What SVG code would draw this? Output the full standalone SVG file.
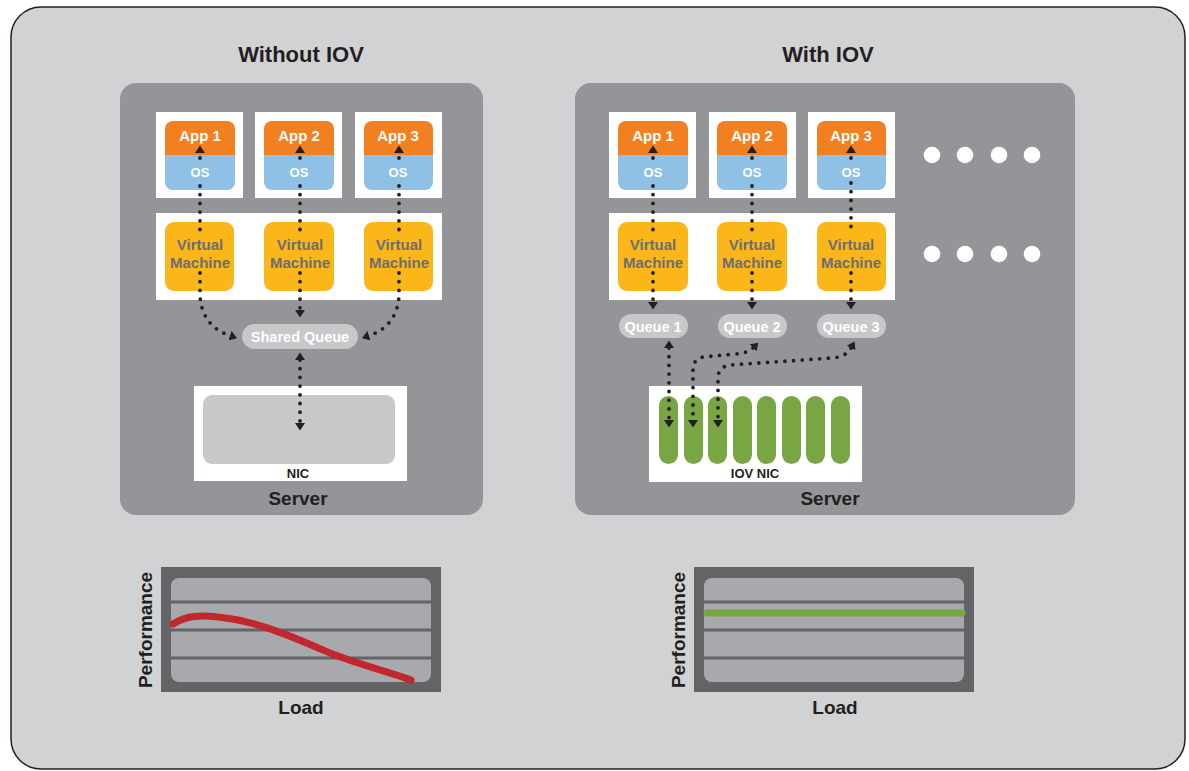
<svg xmlns="http://www.w3.org/2000/svg" width="1189" height="771" viewBox="0 0 1189 771">
<defs>
<style>
.t{font-family:"Liberation Sans",Arial,sans-serif;font-weight:bold;text-anchor:middle}
.title{font-size:22px;fill:#231f20}
.lbl{font-size:19px;fill:#231f20}
.app{font-size:15px;fill:#fff}
.os{font-size:13px;fill:#fff}
.vm{font-size:15px;fill:#6d6e71}
.q{font-size:14.5px;fill:#fff}
.nic{font-size:13px;fill:#231f20}
.panel{fill:#939598}
.white{fill:#fff}
.orange{fill:#f28021}
.blue{fill:#8fc0e6}
.yellow{fill:#fbb61a}
.pill{fill:#c7c8ca}
.green{fill:#77a642}
.dot{fill:#fff}
.dash{fill:none;stroke:#231f20;stroke-width:3.8;stroke-linecap:round;stroke-dasharray:0 8.7}
.grid{stroke:#646466;stroke-width:3}
.ahf{fill:#231f20}
</style>
<marker id="ah" viewBox="0 0 8 10" refX="0" refY="5" markerWidth="8" markerHeight="10" markerUnits="userSpaceOnUse" orient="auto-start-reverse">
<path d="M0,0 L7.5,5 L0,10 Z" fill="#231f20"/>
</marker>
</defs>

<rect x="11" y="7" width="1174" height="762" rx="30" fill="#d1d2d4" stroke="#231f20" stroke-width="1.5"/>

<text class="t title" x="301" y="62">Without IOV</text>
<text class="t title" x="828" y="62">With IOV</text>

<!-- Left server -->
<g id="server-left">
<rect class="panel" x="120" y="83" width="363" height="432" rx="16"/>
<text class="t lbl" x="298" y="505">Server</text>
</g>
<g id="l-app1"><rect class="white" x="156" y="112" width="87" height="86"/><path class="orange" d="M165,155 V129 a8,8 0 0 1 8,-8 H227 a8,8 0 0 1 8,8 V155 Z"/><path class="blue" d="M165,155 V182 a8,8 0 0 0 8,8 H227 a8,8 0 0 0 8,-8 V155 Z"/><text class="t app" x="200" y="141">App 1</text><text class="t os" x="200" y="177">OS</text></g>
<g id="l-app2"><rect class="white" x="255" y="112" width="87" height="86"/><path class="orange" d="M264,155 V129 a8,8 0 0 1 8,-8 H326 a8,8 0 0 1 8,8 V155 Z"/><path class="blue" d="M264,155 V182 a8,8 0 0 0 8,8 H326 a8,8 0 0 0 8,-8 V155 Z"/><text class="t app" x="299" y="141">App 2</text><text class="t os" x="299" y="177">OS</text></g>
<g id="l-app3"><rect class="white" x="355" y="112" width="87" height="86"/><path class="orange" d="M364,155 V129 a8,8 0 0 1 8,-8 H425 a8,8 0 0 1 8,8 V155 Z"/><path class="blue" d="M364,155 V182 a8,8 0 0 0 8,8 H425 a8,8 0 0 0 8,-8 V155 Z"/><text class="t app" x="398" y="141">App 3</text><text class="t os" x="398" y="177">OS</text></g>
<g id="l-vmrow"><rect class="white" x="156" y="213" width="286" height="87"/></g>
<g id="l-vm1"><rect class="yellow" x="165" y="222" width="69" height="69" rx="9"/><text class="t vm" x="200" y="250">Virtual</text><text class="t vm" x="200" y="268">Machine</text></g>
<g id="l-vm2"><rect class="yellow" x="264" y="222" width="70" height="69" rx="9"/><text class="t vm" x="300" y="250">Virtual</text><text class="t vm" x="300" y="268">Machine</text></g>
<g id="l-vm3"><rect class="yellow" x="364" y="222" width="69" height="69" rx="9"/><text class="t vm" x="399" y="250">Virtual</text><text class="t vm" x="399" y="268">Machine</text></g>
<g id="l-shared-queue"><rect class="pill" x="242" y="324" width="116" height="25" rx="12.5"/><text class="t q" x="300" y="342">Shared Queue</text></g>
<g id="l-nic"><rect class="white" x="194" y="386" width="213" height="95"/><rect class="pill" x="203" y="395" width="192" height="69" rx="9"/><text class="t nic" x="298" y="478">NIC</text></g>

<!-- Right server -->
<g id="server-right">
<rect class="panel" x="575" y="83" width="500" height="432" rx="16"/>
<text class="t lbl" x="830" y="505">Server</text>
</g>
<g id="r-app1"><rect class="white" x="609" y="112" width="87" height="86"/><path class="orange" d="M618,155 V129 a8,8 0 0 1 8,-8 H680 a8,8 0 0 1 8,8 V155 Z"/><path class="blue" d="M618,155 V182 a8,8 0 0 0 8,8 H680 a8,8 0 0 0 8,-8 V155 Z"/><text class="t app" x="653" y="141">App 1</text><text class="t os" x="653" y="177">OS</text></g>
<g id="r-app2"><rect class="white" x="709" y="112" width="87" height="86"/><path class="orange" d="M717,155 V129 a8,8 0 0 1 8,-8 H779 a8,8 0 0 1 8,8 V155 Z"/><path class="blue" d="M717,155 V182 a8,8 0 0 0 8,8 H779 a8,8 0 0 0 8,-8 V155 Z"/><text class="t app" x="752" y="141">App 2</text><text class="t os" x="752" y="177">OS</text></g>
<g id="r-app3"><rect class="white" x="808" y="112" width="87" height="86"/><path class="orange" d="M817,155 V129 a8,8 0 0 1 8,-8 H878 a8,8 0 0 1 8,8 V155 Z"/><path class="blue" d="M817,155 V182 a8,8 0 0 0 8,8 H878 a8,8 0 0 0 8,-8 V155 Z"/><text class="t app" x="851" y="141">App 3</text><text class="t os" x="851" y="177">OS</text></g>
<g id="r-dots-top"><circle class="dot" cx="932" cy="155" r="8.3"/><circle class="dot" cx="965" cy="155" r="8.3"/><circle class="dot" cx="999" cy="155" r="8.3"/><circle class="dot" cx="1032" cy="155" r="8.3"/></g>
<g id="r-vmrow"><rect class="white" x="609" y="213" width="286" height="87"/></g>
<g id="r-vm1"><rect class="yellow" x="618" y="222" width="70" height="69" rx="9"/><text class="t vm" x="653" y="250">Virtual</text><text class="t vm" x="653" y="268">Machine</text></g>
<g id="r-vm2"><rect class="yellow" x="717" y="222" width="70" height="69" rx="9"/><text class="t vm" x="752" y="250">Virtual</text><text class="t vm" x="752" y="268">Machine</text></g>
<g id="r-vm3"><rect class="yellow" x="817" y="222" width="69" height="69" rx="9"/><text class="t vm" x="851" y="250">Virtual</text><text class="t vm" x="851" y="268">Machine</text></g>
<g id="r-dots-bottom"><circle class="dot" cx="932" cy="254" r="8.3"/><circle class="dot" cx="965" cy="254" r="8.3"/><circle class="dot" cx="999" cy="254" r="8.3"/><circle class="dot" cx="1032" cy="254" r="8.3"/></g>
<g id="r-queue1"><rect class="pill" x="619" y="314" width="69" height="24" rx="12"/><text class="t q" x="653" y="332">Queue 1</text></g>
<g id="r-queue2"><rect class="pill" x="718" y="314" width="69" height="24" rx="12"/><text class="t q" x="752" y="332">Queue 2</text></g>
<g id="r-queue3"><rect class="pill" x="817" y="314" width="69" height="24" rx="12"/><text class="t q" x="851" y="332">Queue 3</text></g>
<g id="r-iov-nic"><rect class="white" x="649" y="386" width="213" height="96"/>
<rect class="green" x="659" y="396" width="19" height="68" rx="9.5"/>
<rect class="green" x="684" y="396" width="19" height="68" rx="9.5"/>
<rect class="green" x="708" y="396" width="19" height="68" rx="9.5"/>
<rect class="green" x="733" y="396" width="19" height="68" rx="9.5"/>
<rect class="green" x="757" y="396" width="19" height="68" rx="9.5"/>
<rect class="green" x="782" y="396" width="19" height="68" rx="9.5"/>
<rect class="green" x="806" y="396" width="19" height="68" rx="9.5"/>
<rect class="green" x="831" y="396" width="19" height="68" rx="9.5"/>
<text class="t nic" x="755" y="478">IOV NIC</text></g>

<!-- Connectors -->
<g id="connectors">
<path class="dash" d="M200,158 V160 M200,186 V230 M200,273 V296 Q202,326 230,335.7" marker-end="url(#ah)"/>
<path class="dash" d="M300,158 V160 M300,186 V230 M300,273 V310" marker-end="url(#ah)"/>
<path class="dash" d="M399,158 V160 M399,186 V230 M399,273 V296 Q397,326 369,335.7" marker-end="url(#ah)"/>
<path class="dash" d="M300,360 V423" marker-start="url(#ah)" marker-end="url(#ah)"/>

<path class="dash" d="M653,158 V160 M653,186 V230 M653,273 V302" marker-end="url(#ah)"/>
<path class="dash" d="M752,158 V160 M752,186 V230 M752,273 V302" marker-end="url(#ah)"/>
<path class="dash" d="M851,158 V160 M851,183 V233 M851,273 V302" marker-end="url(#ah)"/>

<path class="dash" d="M669,348 V420" marker-start="url(#ah)" marker-end="url(#ah)"/>
<path class="dash" d="M753,348 Q748,353 735,354 L703,357 Q693,359 693,370 V420" marker-start="url(#ah)" marker-end="url(#ah)"/>
<path class="dash" d="M851,348 Q846,357 832,358 L730,365 Q718,367 718,378 V420" marker-start="url(#ah)" marker-end="url(#ah)"/>

<path class="ahf" d="M195,153 L200,145.5 L205,153 Z"/>
<path class="ahf" d="M295,153 L300,145.5 L305,153 Z"/>
<path class="ahf" d="M394,153 L399,145.5 L404,153 Z"/>
<path class="ahf" d="M648,153 L653,145.5 L658,153 Z"/>
<path class="ahf" d="M747,153 L752,145.5 L757,153 Z"/>
<path class="ahf" d="M846,153 L851,145.5 L856,153 Z"/>
</g>

<!-- Charts -->
<g id="chart-left">
<rect x="161" y="567" width="280" height="125" fill="#646466"/>
<rect x="171" y="578" width="260" height="104" rx="8" fill="#a7a9ac"/>
<line class="grid" x1="171" y1="602" x2="431" y2="602"/>
<line class="grid" x1="171" y1="630" x2="431" y2="630"/>
<line class="grid" x1="171" y1="658" x2="431" y2="658"/>
<path d="M173,624 C185,616 200,614 225,618 C260,622 300,640 330,653 C360,665 390,672 411,680" fill="none" stroke="#c1272d" stroke-width="7" stroke-linecap="round"/>
<text class="t lbl" transform="translate(152,630) rotate(-90)" x="0" y="0">Performance</text>
<text class="t lbl" x="301" y="714">Load</text>
</g>
<g id="chart-right">
<rect x="694" y="567" width="280" height="125" fill="#646466"/>
<rect x="704" y="578" width="260" height="104" rx="8" fill="#a7a9ac"/>
<line class="grid" x1="704" y1="602" x2="964" y2="602"/>
<line class="grid" x1="704" y1="630" x2="964" y2="630"/>
<line class="grid" x1="704" y1="658" x2="964" y2="658"/>
<line x1="707" y1="613" x2="962" y2="613" stroke="#77a642" stroke-width="7" stroke-linecap="round"/>
<text class="t lbl" transform="translate(685,630) rotate(-90)" x="0" y="0">Performance</text>
<text class="t lbl" x="835" y="714">Load</text>
</g>
</svg>
